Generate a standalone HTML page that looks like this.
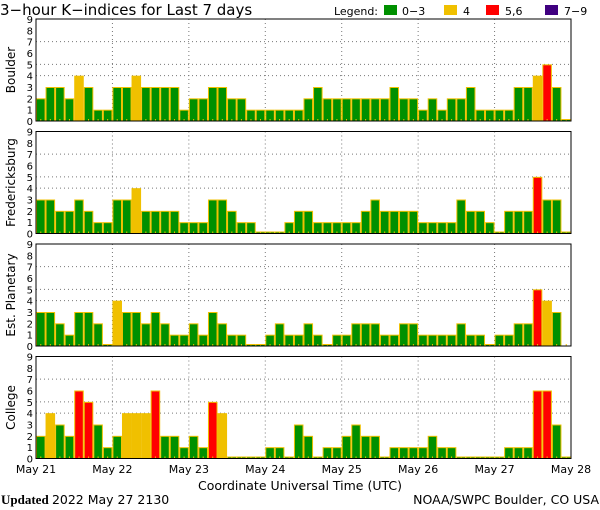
<!DOCTYPE html>
<html><head><meta charset="utf-8">
<style>
html,body{margin:0;padding:0;background:#fff;}
svg{display:block;font-family:"DejaVu Sans","Liberation Sans",sans-serif;}
</style></head>
<body>
<svg id="chart" width="600" height="510" viewBox="0 0 600 510" xmlns="http://www.w3.org/2000/svg">
  <text x="0" y="15" font-size="15">3−hour K−indices for Last 7 days</text>
  <g font-size="11">
    <text x="334" y="15" textLength="44">Legend:</text>
    <rect x="384" y="5" width="13" height="10" fill="#009000"/>
    <text x="402" y="15">0−3</text>
    <rect x="444" y="5" width="13" height="10" fill="#f0c000"/>
    <text x="463" y="15">4</text>
    <rect x="486" y="5" width="13" height="10" fill="#ff0000"/>
    <text x="505" y="15">5,6</text>
    <rect x="545" y="5" width="13" height="10" fill="#400080"/>
    <text x="564" y="15">7−9</text>
  </g>
  <g id="panels"></g>
  <g id="xlabels" font-size="11"></g>
  <text x="300" y="490" font-size="12.5" text-anchor="middle">Coordinate Universal Time (UTC)</text>
  <text x="1" y="504" font-size="13" font-family="'Liberation Serif',serif"><tspan font-weight="bold">Updated</tspan> <tspan font-family="'DejaVu Sans',sans-serif" font-size="12.5">2022 May 27 2130</tspan></text>
  <text x="599" y="504" font-size="12.5" text-anchor="end">NOAA/SWPC Boulder, CO USA</text>
</svg>
<script>
const stations = ["Boulder","Fredericksburg","Est. Planetary","College"];
const boulder = [2,3,3,2,4,3,1,1, 3,3,4,3,3,3,3,1, 2,2,3,3,2,2,1,1, 1,1,1,1,2,3,2,2, 2,2,2,2,2,3,2,2, 1,2,1,2,2,3,1,1, 1,1,3,3,4,5,3,0];
const fredericksburg = [3,3,2,2,3,2,1,1, 3,3,4,2,2,2,2,1, 1,1,3,3,2,1,1,0, 0,0,1,2,2,1,1,1, 1,1,2,3,2,2,2,2, 1,1,1,1,3,2,2,1, 0,2,2,2,5,3,3,0];
const planetary = [3,3,2,1,3,3,2,0, 4,3,3,2,3,2,1,1, 2,1,3,2,1,1,0,0, 1,2,1,1,2,1,0,1, 1,2,2,2,1,1,2,2, 1,1,1,1,2,1,1,0, 1,1,2,2,5,4,3,null];
const college = [2,4,3,2,6,5,3,1, 2,4,4,4,6,2,2,1, 2,1,5,4,0,0,0,0, 1,1,0,3,2,0,1,1, 2,3,2,2,0,1,1,1, 1,2,1,1,0,0,0,0, 0,1,1,1,6,6,3,0];
const dayLabels = ["May 21","May 22","May 23","May 24","May 25","May 26","May 27","May 28"];
const yTicks = [0,1,2,3,4,5,6,7,8,9];
const gridLevels = [4,5,7];

const series = [boulder, fredericksburg, planetary, college];
const NS = "http://www.w3.org/2000/svg";
const X0 = 36, X1 = 571, PH = 102;
const panelTops = [19, 131.5, 244, 356.5];
const nBars = 56;
const bw = (X1 - X0) / nBars;
function xScale(i){ return X0 + i * bw; }
function dayX(d){ return X0 + d * (X1 - X0) / 7; }
function yScale(v, top){ return top + PH - v * PH / 9; }
function color(v){ return v <= 3 ? "#009000" : v === 4 ? "#f0c000" : v <= 6 ? "#ff0000" : "#400080"; }
function mk(tag, attrs, parent){
  const e = document.createElementNS(NS, tag);
  for (const k in attrs) e.setAttribute(k, attrs[k]);
  parent.appendChild(e); return e;
}
const panels = document.getElementById("panels");
series.forEach((vals, p) => {
  const top = panelTops[p], base = top + PH;
  const g = mk("g", {}, panels);
  
  
  gridLevels.forEach(l => {
    const ln = mk("line", {x1:X0, x2:X1, y1:yScale(l,top), y2:yScale(l,top), stroke:"#777", "stroke-dasharray":"1,3"}, g);
    
    
  });
  for (let d = 1; d < 7; d++) {
    const ln = mk("line", {x1:dayX(d), x2:dayX(d), y1:top, y2:base, stroke:"#777", "stroke-dasharray":"1,3"}, g);
    
    
  }
  vals.forEach((v, i) => {
    const x = xScale(i);
    if (v !== null) {
      const y = Math.min(yScale(v, top), base - 2);
      const r = mk("rect", {x:x+0.5, y:y+0.5, width:bw-1, height:base-y-0.5, fill:color(v), stroke:"#f0c000", "stroke-width":1}, g);
      
      
    }
    const t = mk("rect", {x:x+bw/2-0.5, y:base-2, width:1, height:2, fill:"#f0c000"}, g);
    
    
  });
  const fr = mk("rect", {x:X0, y:top, width:X1-X0, height:PH, fill:"none", stroke:"#000", "stroke-width":1}, g);
  
  
  yTicks.forEach(t => {
    const tx = mk("text", {x:33, y:yScale(t,top)+4, "font-size":10, "text-anchor":"end"}, g);
    tx.textContent = t;
    
    
  });
  const cy = top + PH/2;
  const st = mk("text", {x:15, y:cy, "font-size":12, "text-anchor":"middle", transform:"rotate(-90 15 "+cy+")"}, g);
  st.textContent = stations[p];
  
  
});
const xl = document.getElementById("xlabels");
dayLabels.forEach((lab, d) => {
  const t = mk("text", {x:dayX(d), y:473, "text-anchor":"middle"}, xl);
  t.textContent = lab;
  
  
});
</script>
</body></html>
